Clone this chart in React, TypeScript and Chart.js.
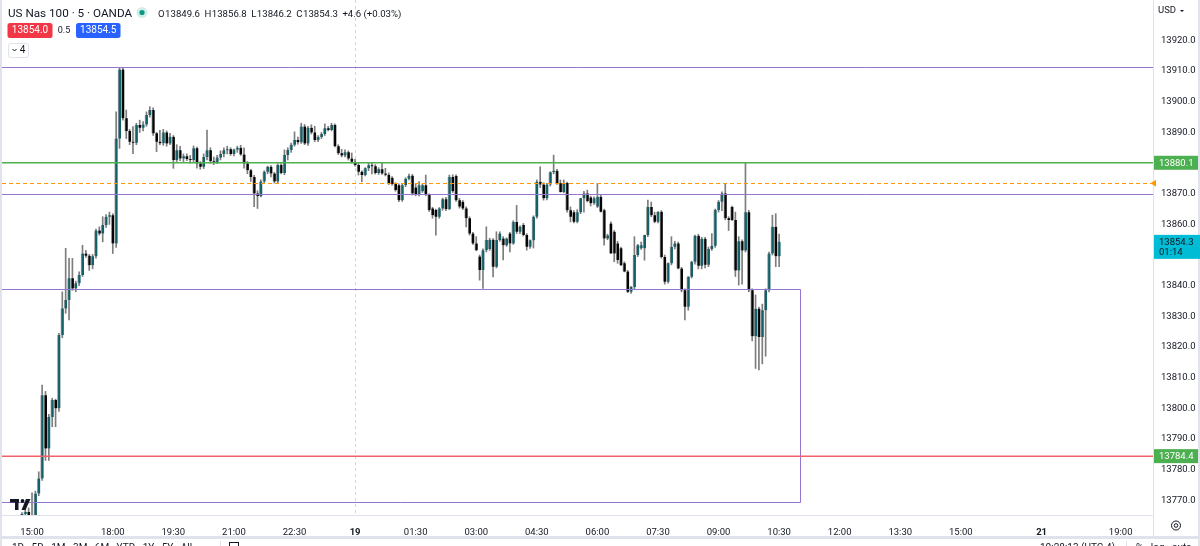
import React, { useEffect, useRef } from 'react';
import { Chart, registerables } from 'chart.js';

Chart.register(...registerables);

// ---------- data (5-minute bars, US Nas 100, OANDA) ----------
// bar index 0 = the first "15:00" label; one unit = one 5-minute bar
const startIndex = -3;
// [open, high, low, close]
const ohlc: [number, number, number, number][] = [
  [13763.5, 13766.0, 13762.0, 13765.5], [13765.5, 13767.0, 13764.5, 13766.2], [13766.2, 13767.5, 13764.0, 13765.0],
  [13765.0, 13772.4, 13763.5, 13764.2], [13764.2, 13773.0, 13763.0, 13772.2], [13772.2, 13779.3, 13771.5, 13777.1],
  [13777.1, 13807.6, 13776.5, 13804.3], [13804.3, 13805.5, 13783.0, 13786.9], [13786.9, 13798.0, 13783.0, 13797.2],
  [13797.2, 13803.3, 13794.0, 13802.7], [13802.7, 13803.0, 13794.0, 13800.0], [13800.0, 13824.5, 13799.0, 13823.9],
  [13823.9, 13838.0, 13823.0, 13832.6], [13832.6, 13852.2, 13831.0, 13835.3], [13835.3, 13848.9, 13828.8, 13842.4],
  [13842.4, 13848.9, 13838.5, 13839.1], [13839.1, 13841.5, 13838.0, 13840.8], [13840.8, 13844.5, 13840.0, 13843.5],
  [13843.5, 13853.2, 13843.0, 13850.5], [13850.5, 13851.5, 13849.2, 13849.8], [13849.8, 13850.2, 13845.0, 13846.7],
  [13846.7, 13850.2, 13845.5, 13849.6], [13849.6, 13858.5, 13849.0, 13858.0], [13858.0, 13859.2, 13856.5, 13857.0],
  [13857.0, 13862.5, 13854.3, 13859.8], [13859.8, 13863.2, 13859.0, 13862.5], [13862.5, 13864.0, 13860.0, 13863.0],
  [13863.0, 13863.5, 13850.5, 13853.8], [13853.8, 13896.7, 13852.5, 13888.0], [13888.0, 13911.0, 13884.8, 13910.5],
  [13910.5, 13911.0, 13894.0, 13894.6], [13894.6, 13897.3, 13888.0, 13890.5], [13890.5, 13891.0, 13886.0, 13887.0],
  [13887.0, 13891.9, 13883.1, 13886.6], [13886.6, 13893.0, 13886.0, 13892.4], [13892.4, 13894.0, 13890.0, 13891.5],
  [13891.5, 13893.5, 13890.5, 13892.6], [13892.6, 13896.7, 13892.0, 13895.7], [13895.7, 13898.4, 13895.0, 13897.3],
  [13897.3, 13898.0, 13889.0, 13889.7], [13889.7, 13890.0, 13883.7, 13887.0], [13887.0, 13890.7, 13886.0, 13886.5],
  [13886.5, 13891.0, 13885.8, 13890.0], [13890.0, 13890.5, 13885.5, 13886.4], [13886.4, 13889.7, 13886.0, 13888.6],
  [13888.6, 13889.0, 13878.3, 13881.0], [13881.0, 13886.0, 13880.5, 13884.2], [13884.2, 13885.5, 13880.8, 13881.5],
  [13881.5, 13883.0, 13880.5, 13882.2], [13882.2, 13883.0, 13880.8, 13881.3], [13881.3, 13882.5, 13880.0, 13881.0],
  [13881.0, 13885.6, 13880.5, 13884.8], [13884.8, 13885.2, 13878.3, 13879.9], [13879.9, 13880.5, 13878.0, 13878.8],
  [13878.8, 13883.0, 13878.2, 13882.0], [13882.0, 13890.8, 13881.0, 13884.2], [13884.2, 13885.0, 13880.0, 13880.6],
  [13880.6, 13882.0, 13879.5, 13880.3], [13880.3, 13882.5, 13879.8, 13881.8], [13881.8, 13884.0, 13881.0, 13883.0],
  [13883.0, 13885.0, 13882.0, 13884.2], [13884.2, 13885.5, 13883.0, 13884.5], [13884.5, 13885.0, 13882.5, 13883.0],
  [13883.0, 13884.6, 13882.3, 13884.4], [13884.4, 13885.5, 13883.5, 13885.0], [13885.0, 13885.8, 13882.5, 13882.8],
  [13882.8, 13885.0, 13878.3, 13879.9], [13879.9, 13880.5, 13876.5, 13877.7], [13877.7, 13878.0, 13874.0, 13875.5],
  [13875.5, 13876.0, 13865.8, 13870.1], [13870.1, 13871.0, 13865.2, 13869.3], [13869.3, 13874.5, 13869.0, 13874.0],
  [13874.0, 13877.5, 13873.5, 13877.2], [13877.2, 13879.0, 13876.5, 13878.8], [13878.8, 13879.2, 13875.5, 13876.6],
  [13876.6, 13877.0, 13873.5, 13874.0], [13874.0, 13879.8, 13873.5, 13879.4], [13879.4, 13879.8, 13876.5, 13876.8],
  [13876.8, 13884.3, 13876.2, 13882.6], [13882.6, 13885.0, 13881.0, 13884.3], [13884.3, 13886.5, 13883.5, 13886.0],
  [13886.0, 13890.2, 13885.5, 13887.5], [13887.5, 13888.5, 13886.2, 13886.8], [13886.8, 13893.0, 13886.4, 13891.9],
  [13891.9, 13892.6, 13886.0, 13886.4], [13886.4, 13892.0, 13885.8, 13891.5], [13891.5, 13892.5, 13889.5, 13890.0],
  [13890.0, 13892.0, 13887.0, 13887.5], [13887.5, 13889.0, 13887.0, 13888.5], [13888.5, 13890.0, 13888.0, 13889.5],
  [13889.5, 13892.8, 13889.0, 13891.4], [13891.4, 13892.0, 13890.5, 13890.8], [13890.8, 13893.0, 13890.5, 13892.4],
  [13892.4, 13892.8, 13885.3, 13885.5], [13885.5, 13886.0, 13882.8, 13883.2], [13883.2, 13884.5, 13882.0, 13882.5],
  [13882.5, 13884.3, 13882.0, 13883.5], [13883.5, 13884.0, 13881.0, 13881.5], [13881.5, 13883.3, 13880.0, 13880.4],
  [13880.4, 13881.2, 13879.0, 13879.4], [13879.4, 13880.0, 13876.1, 13877.2], [13877.2, 13877.5, 13873.9, 13876.1],
  [13876.1, 13878.5, 13875.8, 13878.3], [13878.3, 13880.0, 13877.5, 13879.3], [13879.3, 13880.2, 13876.5, 13879.0],
  [13879.0, 13879.5, 13876.4, 13876.8], [13876.8, 13878.5, 13876.3, 13878.0], [13878.0, 13880.0, 13876.3, 13876.6],
  [13876.6, 13878.3, 13875.8, 13876.2], [13876.2, 13876.8, 13873.0, 13873.4], [13875.2, 13875.6, 13872.8, 13873.2],
  [13873.2, 13873.6, 13870.8, 13871.2], [13872.8, 13873.2, 13867.4, 13867.9], [13867.9, 13873.2, 13867.5, 13872.8],
  [13872.8, 13875.2, 13872.3, 13874.9], [13874.9, 13876.4, 13874.5, 13875.9], [13875.9, 13876.3, 13869.6, 13870.1],
  [13872.0, 13873.4, 13869.3, 13869.6], [13869.6, 13874.0, 13869.3, 13872.8], [13870.8, 13873.2, 13870.4, 13872.8],
  [13872.8, 13876.1, 13869.3, 13869.6], [13869.6, 13870.0, 13864.2, 13864.7], [13865.2, 13865.6, 13862.0, 13863.0],
  [13864.7, 13865.0, 13856.5, 13862.5], [13862.5, 13865.5, 13862.0, 13865.2], [13865.2, 13868.6, 13864.6, 13868.2],
  [13868.2, 13868.8, 13864.5, 13865.0], [13865.0, 13876.1, 13864.8, 13875.5], [13875.5, 13876.2, 13870.4, 13870.8],
  [13875.8, 13876.2, 13867.5, 13867.9], [13867.9, 13868.5, 13865.3, 13865.8], [13867.4, 13867.8, 13864.8, 13865.2],
  [13865.2, 13865.7, 13859.2, 13862.0], [13862.0, 13862.5, 13856.5, 13857.0], [13857.0, 13857.4, 13853.5, 13853.8],
  [13853.8, 13856.0, 13851.4, 13851.6], [13849.5, 13850.0, 13841.8, 13845.1], [13845.1, 13852.0, 13839.1, 13851.6],
  [13851.6, 13859.2, 13851.0, 13854.9], [13852.0, 13855.5, 13851.5, 13855.0], [13855.0, 13855.4, 13842.9, 13846.2],
  [13846.2, 13857.6, 13845.8, 13854.9], [13854.9, 13857.6, 13854.5, 13857.0], [13855.4, 13856.0, 13848.4, 13853.2],
  [13853.2, 13855.6, 13852.8, 13855.4], [13857.0, 13857.4, 13851.0, 13853.8], [13853.8, 13861.2, 13853.5, 13860.8],
  [13860.8, 13866.2, 13857.0, 13857.6], [13857.6, 13859.5, 13857.0, 13859.2], [13859.8, 13860.3, 13856.2, 13856.5],
  [13856.5, 13857.0, 13851.6, 13852.7], [13852.7, 13855.0, 13852.2, 13854.8], [13854.8, 13862.8, 13852.3, 13862.5],
  [13862.5, 13874.5, 13862.0, 13873.9], [13873.9, 13878.8, 13872.0, 13873.0], [13873.0, 13873.6, 13867.9, 13868.5],
  [13868.5, 13873.4, 13868.0, 13873.0], [13873.0, 13877.2, 13872.5, 13877.0], [13877.0, 13882.6, 13876.5, 13877.5],
  [13877.5, 13878.0, 13873.0, 13873.4], [13873.4, 13874.5, 13870.5, 13870.6], [13870.6, 13874.5, 13870.3, 13873.5],
  [13873.5, 13873.8, 13864.0, 13864.6], [13864.6, 13865.7, 13860.8, 13862.5], [13864.0, 13864.5, 13860.5, 13860.9],
  [13860.9, 13864.8, 13860.5, 13864.0], [13864.0, 13868.5, 13863.5, 13868.5], [13868.5, 13870.8, 13864.0, 13870.1],
  [13870.1, 13871.2, 13867.3, 13867.6], [13868.8, 13869.2, 13866.0, 13866.9], [13866.9, 13869.0, 13866.5, 13868.5],
  [13865.8, 13873.4, 13865.5, 13869.0], [13869.0, 13869.5, 13864.0, 13864.1], [13864.6, 13865.0, 13853.2, 13855.4],
  [13855.4, 13856.8, 13855.0, 13856.4], [13860.3, 13860.8, 13850.5, 13850.5], [13857.6, 13858.0, 13847.8, 13850.5],
  [13853.8, 13854.5, 13847.3, 13848.4], [13852.2, 13852.6, 13846.5, 13846.7], [13847.3, 13847.8, 13844.5, 13844.6],
  [13844.6, 13845.0, 13837.7, 13838.0], [13838.0, 13839.8, 13837.5, 13839.6], [13839.6, 13856.0, 13839.0, 13850.0],
  [13850.0, 13853.5, 13849.5, 13853.2], [13852.2, 13854.2, 13851.8, 13853.2], [13852.2, 13856.5, 13848.3, 13856.5],
  [13856.5, 13867.9, 13856.0, 13865.7], [13865.7, 13867.3, 13862.5, 13863.0], [13863.0, 13864.0, 13860.5, 13860.9],
  [13860.9, 13864.2, 13860.5, 13864.1], [13864.1, 13864.5, 13849.0, 13849.4], [13849.4, 13850.0, 13840.5, 13841.3],
  [13841.3, 13847.5, 13840.8, 13847.3], [13847.3, 13856.0, 13846.8, 13852.7], [13852.7, 13854.5, 13852.0, 13853.8],
  [13853.8, 13854.2, 13845.5, 13845.6], [13845.6, 13846.0, 13838.0, 13838.5], [13838.5, 13839.0, 13828.8, 13833.1],
  [13833.1, 13843.0, 13832.0, 13842.9], [13842.9, 13848.0, 13842.5, 13847.8], [13847.8, 13856.5, 13847.0, 13856.3],
  [13856.3, 13856.8, 13845.5, 13846.5], [13846.5, 13855.8, 13845.5, 13855.3], [13855.3, 13855.8, 13845.8, 13846.8],
  [13846.8, 13852.6, 13846.2, 13852.0], [13852.0, 13857.0, 13851.5, 13853.0], [13853.0, 13865.0, 13852.5, 13864.7],
  [13864.7, 13867.8, 13864.0, 13867.4], [13867.4, 13870.6, 13864.5, 13870.1], [13870.1, 13873.4, 13861.5, 13862.0],
  [13862.0, 13862.5, 13858.0, 13861.4], [13865.7, 13866.0, 13861.2, 13861.4], [13861.4, 13864.0, 13843.0, 13845.0],
  [13845.0, 13856.0, 13840.2, 13854.5], [13854.5, 13855.0, 13840.5, 13851.5], [13851.5, 13880.0, 13851.0, 13864.0],
  [13864.0, 13864.6, 13838.0, 13838.5], [13838.5, 13839.0, 13822.0, 13823.5], [13823.5, 13837.0, 13813.0, 13832.5],
  [13832.5, 13833.0, 13812.5, 13823.3], [13823.3, 13834.0, 13814.5, 13832.0], [13832.0, 13839.0, 13817.0, 13838.5],
  [13838.5, 13851.0, 13838.0, 13850.5], [13850.5, 13863.0, 13850.0, 13859.2], [13859.2, 13863.5, 13846.2, 13849.6],
  [13849.6, 13856.8, 13846.2, 13854.3],
];

// time axis
const timeTickIndex = [0, 24, 42, 60, 78, 96, 114, 132, 150, 168, 186, 204, 222, 240, 258, 276, 300, 323.5];
const timeTickLabels = ['15:00', '18:00', '19:30', '21:00', '22:30', '19', '01:30', '03:00', '04:30', '06:00', '07:30', '09:00', '10:30', '12:00', '13:30', '15:00', '21', '19:00'];
const boldTickIndex = [96, 300];
const xMin = -8.92;
const xMax = 333.1;

// price axis
const priceTicks = [13770, 13780, 13790, 13800, 13810, 13820, 13830, 13840, 13850, 13860, 13870, 13880, 13890, 13900, 13910, 13920];
const yMin = 13765.2;
const yMax = 13933.2;

// drawings
const purpleLevels = [13911.2, 13869.8];
const greenLevel = 13880.1;
const redLevel = 13784.4;
const prevCloseLevel = 13873.4;
const boxTop = 13838.8;
const boxBottom = 13769.5;
const boxRightIndex = 228.2;
const daySeparatorIndex = 96;

// header / labels
const symbolTitle = 'US Nas 100 · 5 · OANDA';
const ohlcLetters = ['O', 'H', 'L', 'C'];
const ohlcValues = ['13849.6', '13856.8', '13846.2', '13854.3'];
const changeText = '+4.6 (+0.03%)';
const bidText = '13854.0';
const spreadText = '0.5';
const askText = '13854.5';
const indicatorCount = '4';
const lastPrice = 13854.3;
const countdown = '01:14';
const bottomLeftText = '1D   5D   1M   3M   6M   YTD   1Y   5Y   All';
const bottomRightText = '10:28:13 (UTC-4)';
const bottomRightText2 = '%   log   auto';

const FONT = 'Roboto, "Noto Sans", "DejaVu Sans", sans-serif';
const TEXT = '#131722';
const UP = '#12606a';
const DOWN = '#050505';
const EDGE = '#9a9a9a';
const WICK = '#7d7d7d';
const PURPLE = '#9575cd';
const GREEN = '#4caf50';
const RED = '#f0616a';
const ORANGE = '#ff9800';
const FRAME = '#e0e3eb';

function roundRect(ctx: CanvasRenderingContext2D, x: number, y: number, w: number, h: number, r: number) {
  ctx.beginPath();
  ctx.moveTo(x + r, y);
  ctx.lineTo(x + w - r, y);
  ctx.quadraticCurveTo(x + w, y, x + w, y + r);
  ctx.lineTo(x + w, y + h - r);
  ctx.quadraticCurveTo(x + w, y + h, x + w - r, y + h);
  ctx.lineTo(x + r, y + h);
  ctx.quadraticCurveTo(x, y + h, x, y + h - r);
  ctx.lineTo(x, y + r);
  ctx.quadraticCurveTo(x, y, x + r, y);
  ctx.closePath();
}

const overlayPlugin = {
  id: 'tvOverlay',
  beforeDraw(chart: any) {
    const { ctx, width, height } = chart;
    ctx.save();
    ctx.fillStyle = '#ffffff';
    ctx.fillRect(0, 0, width, height);
    ctx.restore();
  },
  beforeDatasetsDraw(chart: any) {
    const { ctx, chartArea } = chart;
    const xs = chart.scales.x;
    ctx.save();
    const x = Math.round(xs.getPixelForValue(daySeparatorIndex)) + 0.5;
    ctx.strokeStyle = '#d1d4dc';
    ctx.lineWidth = 1;
    ctx.setLineDash([3, 3]);
    ctx.beginPath();
    ctx.moveTo(x, 0);
    ctx.lineTo(x, chartArea.bottom);
    ctx.stroke();
    ctx.restore();
  },
  afterDatasetsDraw(chart: any) {
    const { ctx, chartArea } = chart;
    const xs = chart.scales.x;
    const ys = chart.scales.y;
    const L = chartArea.left;
    const R = chartArea.right;
    const py = (v: number) => Math.round(ys.getPixelForValue(v)) + 0.5;
    ctx.save();
    ctx.beginPath();
    ctx.rect(L, chartArea.top, R - L, chartArea.bottom - chartArea.top);
    ctx.clip();

    // purple horizontal rays
    ctx.strokeStyle = PURPLE;
    ctx.lineWidth = 1;
    purpleLevels.forEach((v) => {
      ctx.beginPath();
      ctx.moveTo(L, py(v));
      ctx.lineTo(R, py(v));
      ctx.stroke();
    });
    // purple rectangle
    const bx = Math.round(xs.getPixelForValue(boxRightIndex)) + 0.5;
    ctx.beginPath();
    ctx.moveTo(L - 5, py(boxTop));
    ctx.lineTo(bx, py(boxTop));
    ctx.lineTo(bx, py(boxBottom));
    ctx.lineTo(L - 5, py(boxBottom));
    ctx.stroke();

    // previous close dashed line
    ctx.strokeStyle = ORANGE;
    ctx.lineWidth = 1.2;
    ctx.setLineDash([4, 3]);
    ctx.beginPath();
    ctx.moveTo(L, py(prevCloseLevel));
    ctx.lineTo(R, py(prevCloseLevel));
    ctx.stroke();
    ctx.setLineDash([]);

    // green and red levels
    ctx.lineWidth = 1.5;
    ctx.strokeStyle = GREEN;
    ctx.beginPath();
    ctx.moveTo(L, ys.getPixelForValue(greenLevel));
    ctx.lineTo(R, ys.getPixelForValue(greenLevel));
    ctx.stroke();
    ctx.strokeStyle = RED;
    ctx.beginPath();
    ctx.moveTo(L, ys.getPixelForValue(redLevel));
    ctx.lineTo(R, ys.getPixelForValue(redLevel));
    ctx.stroke();

    // TradingView watermark
    ctx.fillStyle = '#131722';
    ctx.fillRect(10, 499, 9, 3.5);
    ctx.fillRect(15, 499, 3.5, 11);
    ctx.beginPath();
    ctx.arc(22.5, 501, 1.9, 0, Math.PI * 2);
    ctx.fill();
    ctx.beginPath();
    ctx.moveTo(26, 499);
    ctx.lineTo(30.5, 499);
    ctx.lineTo(25.5, 510);
    ctx.lineTo(21.5, 510);
    ctx.closePath();
    ctx.fill();
    ctx.restore();
  },
  afterDraw(chart: any) {
    const { ctx, chartArea, width, height } = chart;
    const ys = chart.scales.y;
    const R = chartArea.right;
    ctx.save();

    // frame lines
    ctx.fillStyle = FRAME;
    ctx.fillRect(0, 0, 2, height);
    ctx.fillRect(width - 2, 0, 2, height);
    ctx.fillRect(0, 536, width, 3);
    ctx.fillStyle = '#ffffff';
    ctx.fillRect(2, 539, width - 4, height - 539);
    ctx.fillStyle = FRAME;
    ctx.fillRect(R, chartArea.bottom, 1, 21);

    // header
    ctx.textBaseline = 'alphabetic';
    ctx.textAlign = 'left';
    ctx.fillStyle = TEXT;
    ctx.font = `11.7px ${FONT}`;
    ctx.fillText(symbolTitle, 8, 17);
    ctx.fillStyle = 'rgba(8,153,129,0.18)';
    ctx.beginPath();
    ctx.arc(142, 12.5, 5.5, 0, Math.PI * 2);
    ctx.fill();
    ctx.fillStyle = '#089981';
    ctx.beginPath();
    ctx.arc(142, 12.5, 2.6, 0, Math.PI * 2);
    ctx.fill();

    ctx.font = `9.6px ${FONT}`;
    let hx = 158;
    ohlcLetters.forEach((l, k) => {
      ctx.fillStyle = TEXT;
      ctx.fillText(l, hx, 16.5);
      hx += ctx.measureText(l).width + 0.5;
      ctx.fillText(ohlcValues[k], hx, 16.5);
      hx += ctx.measureText(ohlcValues[k]).width + 4.5;
    });
    ctx.fillText(changeText, hx, 16.5);

    // bid / ask
    ctx.fillStyle = '#f23645';
    roundRect(ctx, 7.5, 23, 45, 15, 2.5);
    ctx.fill();
    ctx.fillStyle = '#2962ff';
    roundRect(ctx, 76, 23, 44.5, 15, 2.5);
    ctx.fill();
    ctx.textAlign = 'center';
    ctx.textBaseline = 'middle';
    ctx.font = `10px ${FONT}`;
    ctx.fillStyle = '#ffffff';
    ctx.fillText(bidText, 30, 30.8);
    ctx.fillText(askText, 98.2, 30.8);
    ctx.fillStyle = TEXT;
    ctx.font = `9px ${FONT}`;
    ctx.fillText(spreadText, 64, 30.8);

    // indicators collapse button
    ctx.strokeStyle = FRAME;
    ctx.lineWidth = 1;
    roundRect(ctx, 8.5, 43.5, 20, 14, 2.5);
    ctx.stroke();
    ctx.strokeStyle = TEXT;
    ctx.beginPath();
    ctx.moveTo(12.5, 49);
    ctx.lineTo(14.5, 51);
    ctx.lineTo(16.5, 49);
    ctx.stroke();
    ctx.fillStyle = TEXT;
    ctx.font = `10px ${FONT}`;
    ctx.fillText(indicatorCount, 22.5, 50.8);

    // price axis header
    ctx.textAlign = 'left';
    ctx.font = `9.5px ${FONT}`;
    ctx.fillText('USD', 1158, 11);
    ctx.beginPath();
    ctx.moveTo(1180, 10);
    ctx.lineTo(1184, 10);
    ctx.lineTo(1182, 12);
    ctx.closePath();
    ctx.fill();

    // previous close marker
    const yo = ys.getPixelForValue(prevCloseLevel);
    ctx.fillStyle = ORANGE;
    ctx.beginPath();
    ctx.moveTo(1150.5, yo);
    ctx.lineTo(1156, yo - 3.5);
    ctx.lineTo(1156, yo + 3.5);
    ctx.closePath();
    ctx.fill();

    // level labels
    const levelBox = (v: number, bg: string) => {
      const y = ys.getPixelForValue(v);
      ctx.fillStyle = bg;
      ctx.fillRect(R + 1, y - 7, 44, 14);
      ctx.fillStyle = '#ffffff';
      ctx.font = `9.5px ${FONT}`;
      ctx.textBaseline = 'middle';
      ctx.fillText(v.toFixed(1), R + 6, y + 0.5);
    };
    levelBox(greenLevel, GREEN);
    levelBox(redLevel, GREEN);

    // last price label
    const yl = ys.getPixelForValue(lastPrice);
    ctx.fillStyle = '#00bcd4';
    ctx.fillRect(R + 1, yl - 7, 46, 24);
    ctx.fillStyle = TEXT;
    ctx.font = `9.5px ${FONT}`;
    ctx.fillText(lastPrice.toFixed(1), R + 6, yl + 0.5);
    ctx.fillText(countdown, R + 6, yl + 10.5);

    // gear icon
    ctx.strokeStyle = TEXT;
    ctx.lineWidth = 1;
    ctx.beginPath();
    ctx.arc(1176, 525.5, 4.5, 0, Math.PI * 2);
    ctx.stroke();
    ctx.beginPath();
    ctx.arc(1176, 525.5, 1.8, 0, Math.PI * 2);
    ctx.stroke();

    // bottom toolbar (cut by the window)
    ctx.fillStyle = TEXT;
    ctx.font = `10px ${FONT}`;
    ctx.textBaseline = 'top';
    ctx.fillText(bottomLeftText, 12, 543);
    ctx.fillText(bottomRightText, 1040, 543);
    ctx.fillText(bottomRightText2, 1136, 543);
    ctx.strokeStyle = TEXT;
    ctx.strokeRect(229.5, 542.5, 9, 8);
    ctx.fillStyle = FRAME;
    ctx.fillRect(220, 541, 1, 5);
    ctx.fillRect(1126, 541, 1, 5);
    ctx.restore();
  },
};

export default function App() {
  const ref = useRef<HTMLCanvasElement>(null);
  useEffect(() => {
    document.body.style.margin = '0';
    const canvas = ref.current;
    if (!canvas) return;
    const xsIdx = ohlc.map((_, k) => startIndex + k);
    const chart = new Chart(canvas, {
      type: 'bar',
      data: {
        datasets: [
          {
            label: 'wick',
            data: ohlc.map((c, k) => ({ x: xsIdx[k], y: [c[2], c[1]] })) as any,
            backgroundColor: WICK,
            barThickness: 1,
            grouped: false,
            order: 2,
          } as any,
          {
            label: 'body',
            data: ohlc.map((c, k) => ({ x: xsIdx[k], y: [c[0], c[3]] })) as any,
            backgroundColor: (ctx: any) => {
              const c = ohlc[ctx.dataIndex];
              return c && c[3] >= c[0] ? UP : DOWN;
            },
            borderColor: EDGE,
            borderWidth: { left: 1, right: 0, top: 0, bottom: 0 },
            borderSkipped: false,
            barThickness: 3,
            minBarLength: 1,
            grouped: false,
            order: 1,
          } as any,
        ],
      },
      options: {
        responsive: false,
        animation: false,
        events: [],
        layout: { padding: { left: 2, right: 0, top: 0, bottom: 10 }, autoPadding: false } as any,
        plugins: { legend: { display: false }, tooltip: { enabled: false } },
        scales: {
          x: {
            type: 'linear',
            min: xMin,
            max: xMax,
            offset: false,
            grid: { display: false },
            border: { display: true, color: FRAME },
            afterBuildTicks: (scale: any) => {
              scale.ticks = timeTickIndex.map((v) => ({ value: v }));
            },
            afterFit: (scale: any) => {
              scale.height = 21;
              scale.paddingLeft = 0;
              scale.paddingRight = 0;
            },
            ticks: {
              autoSkip: false,
              maxRotation: 0,
              minRotation: 0,
              padding: 4,
              color: TEXT,
              font: (ctx: any) => ({
                family: FONT,
                size: 9.5,
                weight: ctx.tick && boldTickIndex.includes(ctx.tick.value) ? 'bold' : 'normal',
              }),
              callback: (value: any) => {
                const k = timeTickIndex.indexOf(Number(value));
                return k >= 0 ? timeTickLabels[k] : '';
              },
            },
          },
          y: {
            type: 'linear',
            position: 'right',
            min: yMin,
            max: yMax,
            grid: { display: false },
            border: { display: true, color: FRAME },
            afterBuildTicks: (scale: any) => {
              scale.ticks = priceTicks.map((v) => ({ value: v }));
            },
            afterFit: (scale: any) => {
              scale.width = 47;
              scale.paddingTop = 0;
              scale.paddingBottom = 0;
            },
            ticks: {
              padding: 0,
              color: TEXT,
              font: { family: FONT, size: 9.5 },
              callback: (value: any) => Number(value).toFixed(1),
            },
          },
        },
      } as any,
      plugins: [overlayPlugin],
    });
    return () => chart.destroy();
  }, []);
  return <canvas ref={ref} width={1200} height={546} style={{ display: 'block', width: 1200, height: 546 }} />;
}
